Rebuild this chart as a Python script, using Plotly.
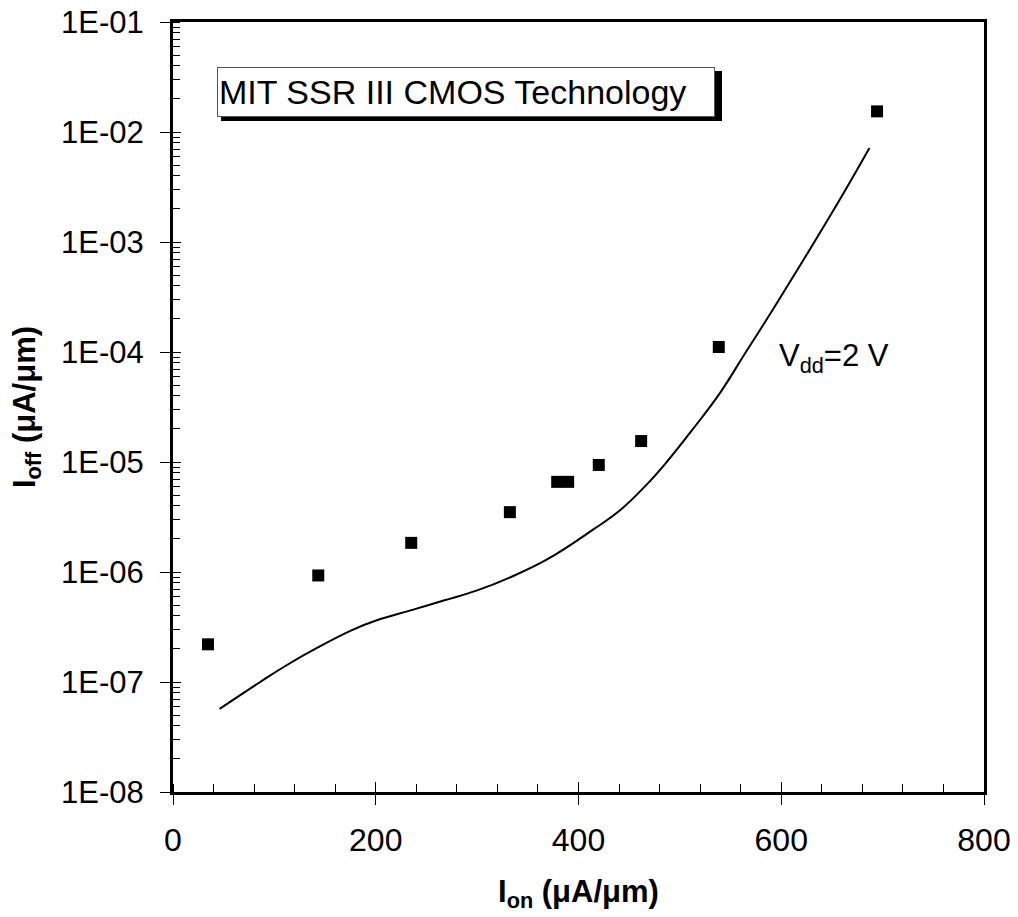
import math
import plotly.graph_objects as go

# Measured points
ion_meas = [34.5, 143.3, 235, 332.3, 379, 389.8, 420, 461.8, 538.4, 694.5]
ioff_meas = [2.2e-7, 9.3e-7, 1.84e-6, 3.5e-6, 6.6e-6, 6.6e-6, 9.4e-6, 1.55e-5, 1.11e-4, 1.54e-2]

# Simulated curve (Vdd = 2 V)
ion_curve = [46, 86, 112, 142, 176, 201, 237, 267, 300, 332, 369, 415, 441, 467,
             487, 513, 540, 563, 582, 622, 655, 687]
ioff_curve = [5.7e-8, 1.0e-7, 1.42e-7, 2.04e-7, 2.95e-7, 3.64e-7, 4.55e-7, 5.5e-7,
              6.8e-7, 8.9e-7, 1.3e-6, 2.45e-6, 3.64e-6, 6.2e-6, 1.0e-5, 2.0e-5,
              4.3e-5, 9.3e-5, 1.75e-4, 6.9e-4, 2.2e-3, 7.16e-3]

y_tickvals = [1e-8, 1e-7, 1e-6, 1e-5, 1e-4, 1e-3, 1e-2, 1e-1]
y_ticktext = ["1E-08", "1E-07", "1E-06", "1E-05", "1E-04", "1E-03", "1E-02", "1E-01"]
x_tickvals = [0, 200, 400, 600, 800]
x_ticktext = ["0", "200", "400", "600", "800"]

box_text = "MIT SSR III CMOS Technology"
vdd_text = "V<sub>dd</sub>=2 V"
vdd_pos = (596, 8.9e-5)

FONT = "Liberation Sans, Arial, Helvetica, sans-serif"

fig = go.Figure()
fig.add_trace(go.Scatter(x=ion_curve, y=ioff_curve, mode="lines",
                         line=dict(color="black", width=2, shape="spline", smoothing=1.2),
                         showlegend=False, hoverinfo="skip"))
fig.add_trace(go.Scatter(x=ion_meas, y=ioff_meas, mode="markers",
                         marker=dict(symbol="square", size=12, color="black"),
                         showlegend=False))
# empty trace on overlay axes for inside major ticks
fig.add_trace(go.Scatter(x=[], y=[], xaxis="x2", yaxis="y2", showlegend=False))

fig.update_layout(
    width=1018, height=917,
    margin=dict(l=173, r=34, t=22, b=125),
    paper_bgcolor="white", plot_bgcolor="white",
    font=dict(family=FONT, color="black", size=31),
    xaxis=dict(range=[0, 800], tickvals=x_tickvals, ticktext=x_ticktext,
               ticks="outside", ticklen=10, tickwidth=1, tickcolor="black",
               showline=True, linewidth=3, linecolor="black", mirror=True,
               showgrid=False, zeroline=False, automargin=False,
               tickfont=dict(size=32), ticklabelstandoff=8,
               minor=dict(dtick=40, ticks="inside", ticklen=8, tickwidth=1,
                          tickcolor="black", showgrid=False),
               title=dict(text="<b>I<sub>on</sub> (μA/μm)</b>", font=dict(size=31), standoff=23)),
    yaxis=dict(type="log", range=[-8, -1], tickvals=y_tickvals, ticktext=y_ticktext,
               ticks="outside", ticklen=10, tickwidth=1, tickcolor="black",
               showline=True, linewidth=3, linecolor="black", mirror=True,
               showgrid=False, zeroline=False, automargin=False,
               tickfont=dict(size=31), ticklabelstandoff=10,
               minor=dict(dtick="D1", ticks="inside", ticklen=7, tickwidth=1,
                          tickcolor="black", showgrid=False),
               title=dict(text="<b>I<sub>off</sub> (μA/μm)</b>", font=dict(size=31), standoff=17)),
    xaxis2=dict(overlaying="x", range=[0, 800], tickvals=x_tickvals, ticks="inside",
                ticklen=10, tickwidth=1, tickcolor="black", showticklabels=False,
                showline=False, showgrid=False, zeroline=False, side="bottom",
                automargin=False),
    yaxis2=dict(overlaying="y", type="log", range=[-8, -1], tickvals=y_tickvals,
                ticks="inside", ticklen=8, tickwidth=1, tickcolor="black",
                showticklabels=False, showline=False, showgrid=False, zeroline=False,
                side="left", automargin=False),
    showlegend=False,
)

# shadow for the text box
fig.add_shape(type="rect", xref="paper", yref="paper",
              x0=(221 - 173) / 811, x1=(722 - 173) / 811,
              y0=1 - (121 - 22) / 770, y1=1 - (71 - 22) / 770,
              fillcolor="black", line=dict(width=0), layer="above")
fig.add_annotation(text=box_text, xref="paper", yref="paper",
                   x=(217 - 173) / 811, y=1 - (67 - 22) / 770,
                   xanchor="left", yanchor="top", align="left",
                   showarrow=False, font=dict(size=34, family=FONT, color="black"),
                   bgcolor="white", bordercolor="#555555", borderwidth=1,
                   width=494, height=46, borderpad=1)
fig.add_annotation(text=vdd_text, x=vdd_pos[0], y=math.log10(vdd_pos[1]),
                   xanchor="left", yanchor="middle", showarrow=False,
                   font=dict(size=31, family=FONT, color="black"))

fig.write_html("out.html")
